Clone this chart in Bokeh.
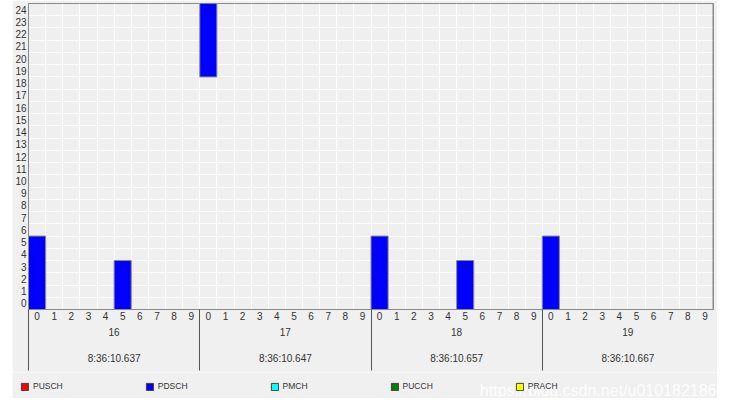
from bokeh.plotting import figure
from bokeh.models import (Range1d, LinearAxis, FixedTicker, Grid, Legend, LegendItem,
                          ColumnDataSource, Span, Label, Spacer)
from bokeh.layouts import row, column
from bokeh.embed import file_html
from bokeh.resources import INLINE

# ---- data ----
frames = [16, 17, 18, 19]
timestamps = ["8:36:10.637", "8:36:10.647", "8:36:10.657", "8:36:10.667"]
subframes = [0, 1, 2, 3, 4, 5, 6, 7, 8, 9]
rb_rows = list(range(25))

# allocations per channel: (frame, subframe, first RB row, last RB row)
pdsch_frame = [16, 16, 17, 18, 18, 19]
pdsch_subframe = [0, 5, 0, 0, 5, 0]
pdsch_rb_first = [0, 0, 19, 0, 0, 0]
pdsch_rb_last = [5, 3, 24, 5, 3, 5]
empty = dict(frame=[], subframe=[], first=[], last=[])

channels = ["PUSCH", "PDSCH", "PMCH", "PUCCH", "PRACH"]
channel_colors = ["#ff0000", "#0000ff", "#00ffff", "#008000", "#ffff00"]
allocations = {
    "PUSCH": empty,
    "PDSCH": dict(frame=pdsch_frame, subframe=pdsch_subframe, first=pdsch_rb_first, last=pdsch_rb_last),
    "PMCH": empty,
    "PUCCH": empty,
    "PRACH": empty,
}

FONT = "Liberation Sans"
TXT = "#333333"
BG = "#f0f0f0"
nsub = len(subframes)
f0 = frames[0]
total = nsub * len(frames)


def make_source(a):
    slot = [(f - f0) * nsub + s for f, s in zip(a["frame"], a["subframe"])]
    return ColumnDataSource(dict(left=slot, right=[v + 1 for v in slot],
                                 bottom=[v - 0.5 for v in a["first"]],
                                 top=[v + 0.5 for v in a["last"]]))


p = figure(width=705, height=372, output_backend="svg", toolbar_location=None,
           x_range=Range1d(0, total), y_range=Range1d(-0.5, rb_rows[-1] + 0.5),
           x_axis_location=None, y_axis_location=None,
           min_border_left=15, min_border_right=4, min_border_top=3, min_border_bottom=63)
p.grid.visible = False
p.background_fill_color = "#efefef"
p.border_fill_color = BG
p.outline_line_color = "#8a8a8a"
p.outline_line_width = 1

# grids at cell boundaries
p.add_layout(Grid(dimension=0, ticker=FixedTicker(ticks=list(range(total + 1))),
                  grid_line_color="white", grid_line_width=1))
p.add_layout(Grid(dimension=1, ticker=FixedTicker(ticks=[r - 0.5 for r in rb_rows] + [rb_rows[-1] + 0.5]),
                  grid_line_color="white", grid_line_width=1))

# y axis
yax = LinearAxis(ticker=FixedTicker(ticks=rb_rows), major_tick_out=0, major_tick_in=0,
                 minor_tick_out=0, minor_tick_in=0, axis_line_color="#8a8a8a",
                 major_label_standoff=2, major_label_text_font=FONT,
                 major_label_text_font_size="10px", major_label_text_color=TXT)
p.add_layout(yax, "left")

centers = [i + 0.5 for i in range(total)]
bounds = [i * nsub for i in range(len(frames))]
fcenters = [b + nsub / 2 for b in bounds]
common = dict(major_tick_in=0, major_tick_out=0, minor_tick_in=0,
              major_label_text_font=FONT, major_label_text_font_size="10px",
              major_label_text_color=TXT)

# level 1: subframe numbers, frame separators drawn as long minor ticks
axA = LinearAxis(ticker=FixedTicker(ticks=centers, minor_ticks=bounds),
                 major_label_overrides={c: str(subframes[i % nsub]) for i, c in enumerate(centers)},
                 axis_line_color="#8a8a8a", minor_tick_out=61, minor_tick_line_color="#555555",
                 major_label_standoff=-59, **common)
p.add_layout(axA, "below")

# level 2: frame numbers
axB = LinearAxis(ticker=FixedTicker(ticks=fcenters),
                 major_label_overrides={c: str(f) for c, f in zip(fcenters, frames)},
                 axis_line_color=None, minor_tick_out=0, major_label_standoff=5, **common)
p.add_layout(axB, "below")

# level 3: timestamps
axC = LinearAxis(ticker=FixedTicker(ticks=fcenters),
                 major_label_overrides={c: t for c, t in zip(fcenters, timestamps)},
                 axis_line_color=None, minor_tick_out=0, major_label_standoff=14, **common)
p.add_layout(axC, "below")

p.add_layout(Span(location=total, dimension="height", line_color="#8a8a8a", line_width=2))

for ch, col in zip(channels, channel_colors):
    if allocations[ch]["frame"]:
        p.quad(left="left", right="right", bottom="bottom", top="top",
               source=make_source(allocations[ch]), fill_color=col,
               line_color="#8a8a8a", line_width=1)

# ---- legend strip ----
p2 = figure(width=705, height=26, output_backend="svg", toolbar_location=None,
            x_range=Range1d(0, 1), y_range=Range1d(0, 1),
            x_axis_location=None, y_axis_location=None,
            min_border_left=0, min_border_right=0, min_border_top=0, min_border_bottom=0)
p2.grid.visible = False
p2.outline_line_color = None
p2.background_fill_color = BG
p2.border_fill_color = BG

nan = float("nan")
items = []
for ch, col in zip(channels, channel_colors):
    r = p2.quad(left=[nan], right=[nan], bottom=[nan], top=[nan], fill_color=col,
                line_color="#444444", line_width=1)
    items.append(LegendItem(label=ch, renderers=[r]))

legend = Legend(items=items, orientation="horizontal", location=(8, 7), spacing=82,
                glyph_width=9, glyph_height=9, label_height=9, label_width=10,
                label_standoff=4, padding=0, margin=0,
                background_fill_alpha=0, border_line_alpha=0,
                label_text_font=FONT, label_text_font_size="8.5px", label_text_color=TXT)
p2.add_layout(legend, "center")

p2.add_layout(Label(x=704, y=8, x_units="screen", y_units="screen",
                    text="https://blog.csdn.net/u010182186", text_align="right",
                    text_baseline="middle", text_font=FONT, text_font_size="16px",
                    text_color="white", text_alpha=0.9))

layout = column(row(Spacer(width=12, height=372), p),
                row(Spacer(width=12, height=26), p2))
open("out.html", "w").write(file_html(layout, INLINE))
